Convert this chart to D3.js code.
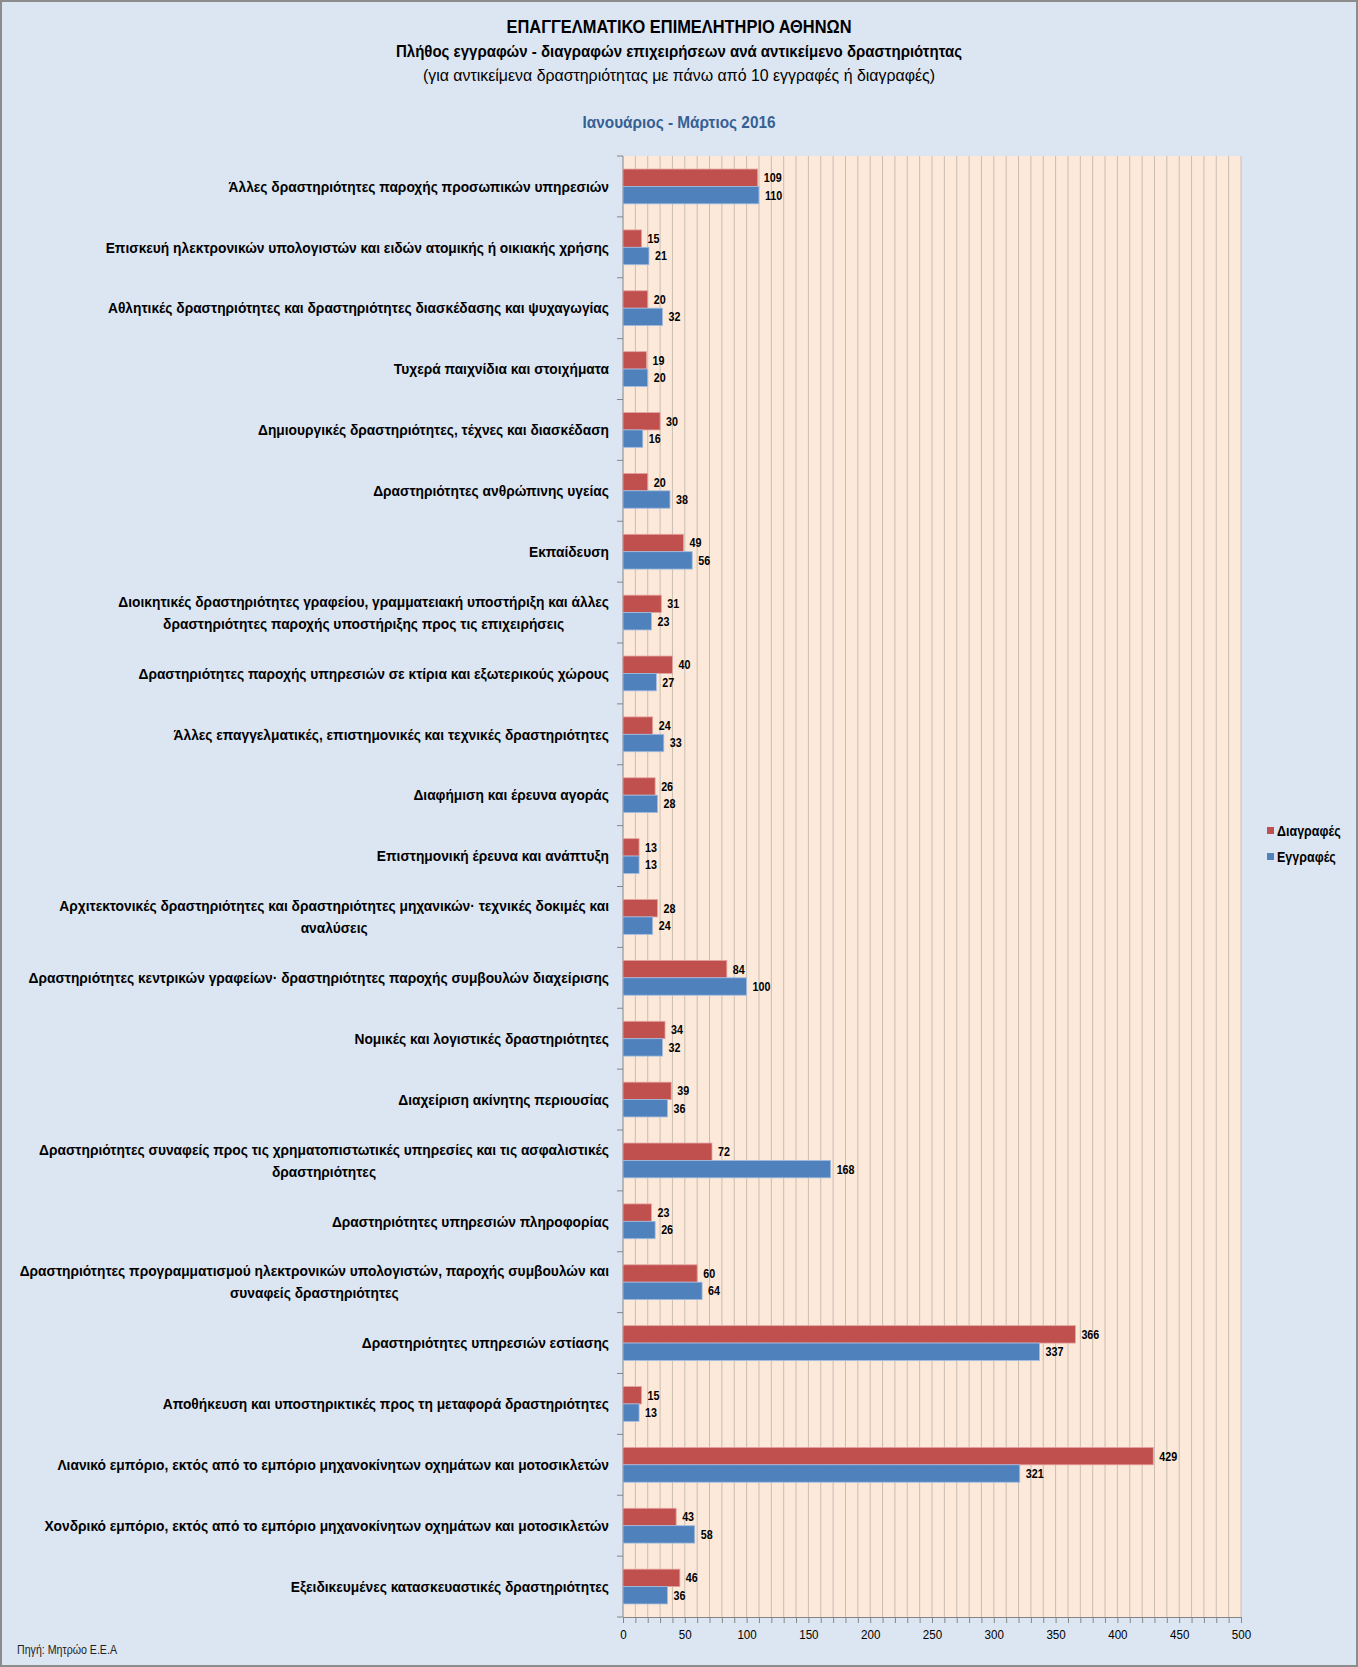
<!DOCTYPE html>
<html>
<head>
<meta charset="utf-8">
<script src="https://cdn.jsdelivr.net/npm/d3@7"></script>
<style>
  html, body { margin: 0; padding: 0; background: #dce6f2; }
  svg { display: block; }
</style>
</head>
<body>
<div id="chart"></div>
<script>
// Κατηγορίες (από πάνω προς τα κάτω), με αλλαγές γραμμής όπως στο πρωτότυπο
const categories = [
  ['Άλλες δραστηριότητες παροχής προσωπικών υπηρεσιών'],
  ['Επισκευή ηλεκτρονικών υπολογιστών και ειδών ατομικής ή οικιακής χρήσης'],
  ['Αθλητικές δραστηριότητες και δραστηριότητες διασκέδασης και ψυχαγωγίας'],
  ['Τυχερά παιχνίδια και στοιχήματα'],
  ['Δημιουργικές δραστηριότητες, τέχνες και διασκέδαση'],
  ['Δραστηριότητες ανθρώπινης υγείας'],
  ['Εκπαίδευση'],
  ['Διοικητικές δραστηριότητες γραφείου, γραμματειακή υποστήριξη και άλλες', 'δραστηριότητες παροχής υποστήριξης προς τις επιχειρήσεις'],
  ['Δραστηριότητες παροχής υπηρεσιών σε κτίρια και εξωτερικούς χώρους'],
  ['Άλλες επαγγελματικές, επιστημονικές και τεχνικές δραστηριότητες'],
  ['Διαφήμιση και έρευνα αγοράς'],
  ['Επιστημονική έρευνα και ανάπτυξη'],
  ['Αρχιτεκτονικές δραστηριότητες και δραστηριότητες μηχανικών· τεχνικές δοκιμές και', 'αναλύσεις'],
  ['Δραστηριότητες κεντρικών γραφείων· δραστηριότητες παροχής συμβουλών διαχείρισης'],
  ['Νομικές και λογιστικές δραστηριότητες'],
  ['Διαχείριση ακίνητης περιουσίας'],
  ['Δραστηριότητες συναφείς προς τις χρηματοπιστωτικές υπηρεσίες και τις ασφαλιστικές', 'δραστηριότητες'],
  ['Δραστηριότητες υπηρεσιών πληροφορίας'],
  ['Δραστηριότητες προγραμματισμού ηλεκτρονικών υπολογιστών, παροχής συμβουλών και', 'συναφείς δραστηριότητες'],
  ['Δραστηριότητες υπηρεσιών εστίασης'],
  ['Αποθήκευση και υποστηρικτικές προς τη μεταφορά δραστηριότητες'],
  ['Λιανικό εμπόριο, εκτός από το εμπόριο μηχανοκίνητων οχημάτων και μοτοσικλετών'],
  ['Χονδρικό εμπόριο, εκτός από το εμπόριο μηχανοκίνητων οχημάτων και μοτοσικλετών'],
  ['Εξειδικευμένες κατασκευαστικές δραστηριότητες']
];
// Διαγραφές
const deletions = [109, 15, 20, 19, 30, 20, 49, 31, 40, 24, 26, 13, 28, 84, 34, 39, 72, 23, 60, 366, 15, 429, 43, 46];
// Εγγραφές
const registrations = [110, 21, 32, 20, 16, 38, 56, 23, 27, 33, 28, 13, 24, 100, 32, 36, 168, 26, 64, 337, 13, 321, 58, 36];
const seriesNames = ['Διαγραφές', 'Εγγραφές'];
const xTicks = [0, 50, 100, 150, 200, 250, 300, 350, 400, 450, 500];

const width = 1358;
const height = 1667;
const margin = { top: 156, right: 117, bottom: 50, left: 623 };
const font = '"Liberation Sans", Arial, sans-serif';
const colors = ['#c0504d', '#4f81bd'];
const strokes = ['#e4a3a1', '#a3bde0'];
const narrow = 0.86; // το Calibri του πρωτοτύπου είναι στενότερο

const rows = categories.map((c, i) => ({ lines: c, values: [deletions[i], registrations[i]] }));

const svg = d3.select('#chart')
  .append('svg')
  .attr('width', width)
  .attr('height', height)
  .style('font-family', font);

svg.append('rect')
  .attr('x', 1).attr('y', 1)
  .attr('width', width - 2).attr('height', height - 2)
  .attr('fill', '#dce6f2')
  .attr('stroke', '#8c8c8c')
  .attr('stroke-width', 2);

// τίτλοι (πλάτη από το πρωτότυπο)
const titles = [
  { t: 'ΕΠΑΓΓΕΛΜΑΤΙΚΟ ΕΠΙΜΕΛΗΤΗΡΙΟ ΑΘΗΝΩΝ', y: 33, size: 19, w: 345, weight: 'bold', color: '#000' },
  { t: 'Πλήθος εγγραφών - διαγραφών επιχειρήσεων ανά αντικείμενο δραστηριότητας', y: 57, size: 16, w: 566, weight: 'bold', color: '#000' },
  { t: '(για αντικείμενα δραστηριότητας με πάνω από 10 εγγραφές ή διαγραφές)', y: 81, size: 16, w: 512, weight: 'normal', color: '#000' },
  { t: 'Ιανουάριος - Μάρτιος 2016', y: 128, size: 16, w: 193, weight: 'bold', color: '#366092' }
];
svg.selectAll('text.title')
  .data(titles)
  .join('text')
  .attr('class', 'title')
  .attr('x', 679)
  .attr('y', (d) => d.y)
  .attr('text-anchor', 'middle')
  .attr('font-size', (d) => d.size)
  .attr('font-weight', (d) => d.weight)
  .attr('fill', (d) => d.color)
  .attr('textLength', (d) => d.w)
  .attr('lengthAdjust', 'spacingAndGlyphs')
  .text((d) => d.t);

const innerW = width - margin.left - margin.right;
const innerH = height - margin.top - margin.bottom;

const x = d3.scaleLinear().domain([0, 500]).range([0, innerW]);
const y = d3.scaleBand().domain(d3.range(rows.length)).range([0, innerH]);
const sub = d3.scaleBand().domain([0, 1]).range([y.bandwidth() / 2 - 17.4, y.bandwidth() / 2 + 17.4]);

const g = svg.append('g').attr('transform', `translate(${margin.left},${margin.top})`);

g.append('rect')
  .attr('width', innerW)
  .attr('height', innerH)
  .attr('fill', '#fde9d9');

// κάθετες γραμμές πλέγματος ανά 10
g.selectAll('line.grid')
  .data(d3.range(10, 501, 10))
  .join('line')
  .attr('class', 'grid')
  .attr('x1', (d) => x(d)).attr('x2', (d) => x(d))
  .attr('y1', 0).attr('y2', innerH)
  .attr('stroke', '#b8aea6')
  .attr('stroke-width', 0.75);

// άξονας x
const xAxis = g.append('g')
  .attr('transform', `translate(0,${innerH})`)
  .call(d3.axisBottom(x).tickValues(d3.range(0, 501, 10)).tickSize(6).tickFormat((d) => (xTicks.includes(d) ? d : '')));
xAxis.select('.domain').attr('stroke', '#868686');
xAxis.selectAll('.tick line').attr('stroke', '#868686');
xAxis.selectAll('.tick text')
  .attr('font-family', font)
  .attr('font-size', 13.5)
  .attr('fill', '#000')
  .attr('transform', `scale(${narrow},1)`)
  .attr('dy', '0.95em');

// άξονας y
g.append('line')
  .attr('x1', 0).attr('x2', 0)
  .attr('y1', 0).attr('y2', innerH)
  .attr('stroke', '#868686');
g.selectAll('line.ytick')
  .data(d3.range(rows.length + 1))
  .join('line')
  .attr('class', 'ytick')
  .attr('x1', -6).attr('x2', 0)
  .attr('y1', (d) => (d < rows.length ? y(d) : innerH))
  .attr('y2', (d) => (d < rows.length ? y(d) : innerH))
  .attr('stroke', '#868686');

const row = g.selectAll('g.row')
  .data(rows)
  .join('g')
  .attr('class', 'row')
  .attr('transform', (d, i) => `translate(0,${y(i)})`);

row.selectAll('rect.bar')
  .data((d) => d.values)
  .join('rect')
  .attr('class', 'bar')
  .attr('x', 0)
  .attr('y', (d, j) => sub(j))
  .attr('width', (d) => x(d))
  .attr('height', sub.bandwidth())
  .attr('fill', (d, j) => colors[j])
  .attr('stroke', (d, j) => strokes[j])
  .attr('stroke-width', 0.8);

row.selectAll('text.val')
  .data((d) => d.values)
  .join('text')
  .attr('class', 'val')
  .attr('transform', (d, j) => `translate(${x(d) + 6},${sub(j) + sub.bandwidth() / 2}) scale(${narrow},1)`)
  .attr('dy', '0.35em')
  .attr('font-size', 12.5)
  .attr('font-weight', 'bold')
  .text((d) => d);

// ετικέτες κατηγοριών: δεξιά στοίχιση, οι γραμμές κεντραρισμένες μεταξύ τους
const labelRight = -14;
const labelSize = 15;
// συμπίεση ώστε η μακρύτερη γραμμή να έχει το πλάτος του πρωτοτύπου (581px)
const probe = svg.append('text').attr('font-size', labelSize).attr('font-weight', 'bold')
  .text(categories[13][0]);
const labelK = 581 / probe.node().getComputedTextLength();
probe.remove();

row.each(function (d) {
  const lbl = d3.select(this).append('text')
    .attr('font-size', labelSize)
    .attr('font-weight', 'bold')
    .attr('fill', '#000')
    .attr('text-anchor', 'middle')
    .attr('transform', `translate(${labelRight},0) scale(${labelK},1)`);
  const lineH = 22;
  const y0 = y.bandwidth() / 2 - ((d.lines.length - 1) * lineH) / 2;
  const spans = d.lines.map((t, k) => lbl.append('tspan')
    .attr('y', y0 + k * lineH)
    .attr('dy', '0.35em')
    .text(t));
  const maxW = d3.max(spans, (s) => s.node().getComputedTextLength());
  spans.forEach((s) => s.attr('x', -maxW / 2));
});

// υπόμνημα
const legend = svg.append('g').attr('transform', 'translate(1267,831)');
seriesNames.forEach((name, j) => {
  const it = legend.append('g').attr('transform', `translate(0,${j * 26})`);
  it.append('rect').attr('x', 0).attr('y', -4).attr('width', 7).attr('height', 7).attr('fill', colors[j]);
  it.append('text')
    .attr('transform', `translate(10,0) scale(${labelK * 0.94},1)`)
    .attr('dy', '0.35em')
    .attr('font-size', 14.5).attr('font-weight', 'bold')
    .text(name);
});

svg.append('text')
  .attr('x', 17).attr('y', 1654)
  .attr('font-size', 12)
  .attr('fill', '#222')
  .attr('textLength', 100)
  .attr('lengthAdjust', 'spacingAndGlyphs')
  .text('Πηγή: Μητρώο Ε.Ε.Α');
</script>
</body>
</html>
